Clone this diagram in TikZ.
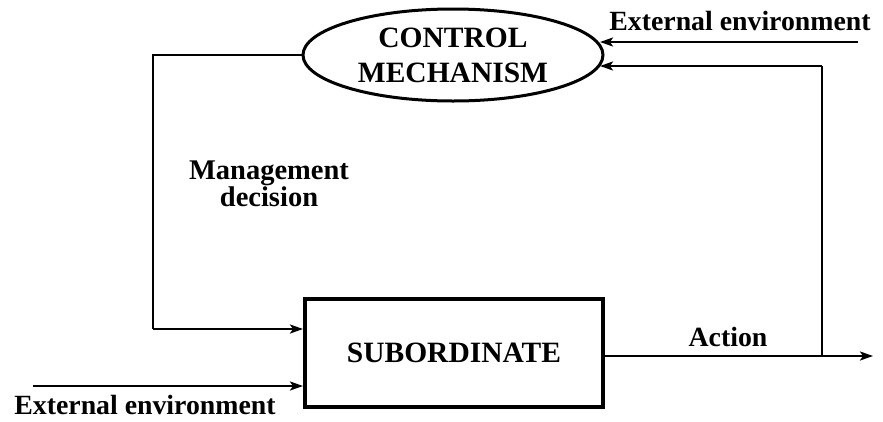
\documentclass[tikz,border=0pt]{standalone}
\usepackage{fontspec}
\setmainfont{Liberation Serif}
\usetikzlibrary{arrows.meta,shapes.geometric}
\begin{document}
\begin{tikzpicture}[x=1pt,y=-1pt,
  lbl/.style={font=\fontsize{27.8}{27}\selectfont\bfseries, inner sep=0pt, align=center},
  conn/.style={line width=2.2pt, -{Stealth[length=13pt,width=9pt,inset=3pt]}},
  thin/.style={line width=1.6pt}]
\useasboundingbox (0,0) rectangle (883,421);
\node[ellipse, draw, line width=3pt, minimum width=300pt, minimum height=92pt, inner sep=0pt,
      font=\fontsize{29.5}{35}\selectfont\bfseries, align=center] (ctrl) at (453,55) {CONTROL\\MECHANISM};
\node[rectangle, draw, line width=3.5pt, minimum width=298pt, minimum height=108pt, inner sep=0pt,
      font=\fontsize{29.5}{29}\selectfont\bfseries] (sub) at (454,353) {SUBORDINATE};
\coordinate (ml) at (153,55);
\coordinate (mb) at (153,329);
\coordinate (sin1) at (303,329);
\coordinate (extL) at (33,386);
\coordinate (sin2) at (303,386);
\coordinate (actS) at (603,356);
\coordinate (actE) at (873,356);
\coordinate (fb) at (822,356);
\coordinate (fbT) at (822,66);
\coordinate (fbEnd) at (600,66);
\coordinate (extR) at (858,42);
\coordinate (extEnd) at (600,42);
\draw[thin] (ctrl.west) -- (ml) -- (mb);
\draw[conn] (mb) -- (sin1);
\draw[conn] (extL) -- (sin2);
\draw[conn] (actS) -- (actE);
\draw[thin] (fb) -- (fbT);
\draw[conn] (fbT) -- (fbEnd);
\draw[conn] (extR) -- (extEnd);
\node[lbl] (tExtR) at (740,21) {External environment};
\node[lbl] (tExtL) at (145,405) {External environment};
\node[lbl] (tAct) at (728,337) {Action};
\node[lbl, font=\fontsize{28.5}{26}\selectfont\bfseries] (tMgmt) at (269,184) {Management\\decision};
\end{tikzpicture}
\end{document}
